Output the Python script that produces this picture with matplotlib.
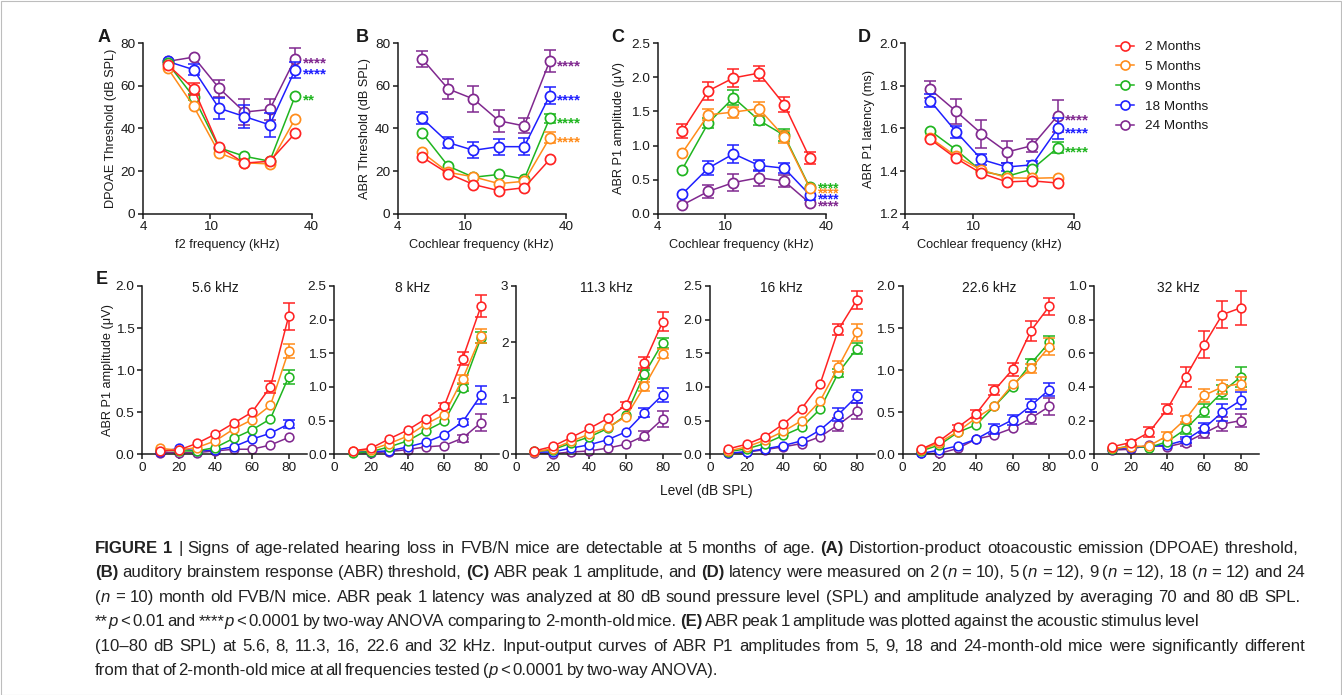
import matplotlib
matplotlib.use('Agg')
import matplotlib.pyplot as plt
import numpy as np
from matplotlib.lines import Line2D
from matplotlib.patches import Rectangle
from matplotlib.ticker import NullLocator

plt.rcParams['font.family'] = ['Liberation Sans', 'DejaVu Sans']

# ---------------- data ----------------
groups = ["2 Months", "5 Months", "9 Months", "18 Months", "24 Months"]
colors = ['#ff2222', '#ff8c1a', '#1fb51f', '#1f1fff', '#80288f']
freqs = [5.6, 8, 11.3, 16, 22.6, 32]
levels = [10, 20, 30, 40, 50, 60, 70, 80]

# A: DPOAE threshold (dB SPL), rows = groups
dpoae_mean = [[69.8, 58.6, 31.3, 23.8, 24.7, 37.8],
              [68.3, 50.3, 28.6, 24.0, 23.4, 44.5],
              [70.6, 54.7, 31.0, 27.0, 24.7, 55.2],
              [71.4, 67.5, 49.5, 45.6, 41.7, 67.5],
              [71.4, 73.4, 58.9, 47.7, 48.9, 72.7]]
dpoae_sem = [[0, 2.7, 0, 0, 0, 0],
             [0, 0, 0, 0, 0, 0],
             [0, 1.5, 0, 0, 0, 0],
             [0, 2.5, 5.0, 5.5, 5.6, 3.7],
             [0, 0, 4.0, 6.0, 5.0, 4.8]]
dpoae_stars = [None, None, "**", "****", "****"]

# B: ABR threshold (dB SPL)
abrthr_mean = [[26.6, 18.9, 13.8, 10.9, 12.3, 25.5],
               [28.8, 19.5, 17.4, 14.2, 15.3, 35.6],
               [37.9, 22.4, 17.2, 18.5, 16.4, 44.8],
               [44.8, 33.4, 29.8, 31.5, 31.5, 55.4],
               [72.6, 58.5, 53.8, 43.6, 41.2, 71.5]]
abrthr_sem = [[0, 0, 0, 0, 0, 0],
              [0, 0, 0, 0, 0, 2.6],
              [0, 0, 0, 0, 0, 2.1],
              [2.9, 2.5, 3.8, 3.8, 4.1, 3.9],
              [3.8, 4.7, 5.9, 5.2, 3.5, 5.0]]
abrthr_stars = [None, "****", "****", "****", "****"]

# C: ABR P1 amplitude (uV)
amp_mean = [[1.21, 1.80, 1.99, 2.06, 1.60, 0.82],
            [0.89, 1.45, 1.49, 1.54, 1.13, 0.38],
            [0.65, 1.33, 1.70, 1.37, 1.15, 0.39],
            [0.29, 0.67, 0.88, 0.71, 0.67, 0.28],
            [0.13, 0.33, 0.46, 0.53, 0.48, 0.16]]
amp_sem = [[0.10, 0.13, 0.13, 0.11, 0.11, 0.09],
           [0, 0.08, 0.08, 0.10, 0.085, 0],
           [0, 0.08, 0.11, 0.07, 0.09, 0],
           [0, 0.10, 0.13, 0.086, 0.075, 0.08],
           [0, 0.09, 0.12, 0.12, 0.085, 0]]
amp_stars = [None, "****", "****", "****", "****"]
amp_star_y = [None, 0.363, 0.44, 0.27, 0.166]

# D: ABR P1 latency (ms)
lat_mean = [[1.55, 1.46, 1.39, 1.35, 1.355, 1.345],
            [1.557, 1.47, 1.406, 1.37, 1.367, 1.37],
            [1.59, 1.50, 1.40, 1.376, 1.41, 1.51],
            [1.73, 1.584, 1.455, 1.42, 1.43, 1.60],
            [1.784, 1.68, 1.576, 1.49, 1.52, 1.66]]
lat_sem = [[0, 0, 0, 0, 0, 0],
           [0, 0, 0, 0, 0, 0],
           [0, 0, 0, 0, 0, 0.025],
           [0.03, 0.03, 0.025, 0.02, 0.02, 0.05],
           [0.04, 0.06, 0.065, 0.05, 0.03, 0.075]]
lat_stars = [None, None, "****", "****", "****"]

# E: input-output curves (uV)
io_titles = ["5.6 kHz", "8 kHz", "11.3 kHz", "16 kHz", "22.6 kHz", "32 kHz"]
io_5p6_mean = [[0.04, 0.05, 0.13, 0.24, 0.37, 0.50, 0.80, 1.64],
               [0.07, 0.05, 0.08, 0.16, 0.30, 0.41, 0.58, 1.23],
               [0.05, 0.04, 0.04, 0.08, 0.19, 0.29, 0.42, 0.92],
               [0.03, 0.07, 0.04, 0.05, 0.09, 0.18, 0.25, 0.36],
               [0.02, 0.02, 0.02, 0.04, 0.06, 0.06, 0.11, 0.20]]
io_5p6_sem = [[0, 0, 0, 0, 0, 0, 0.07, 0.16],
              [0, 0, 0, 0, 0, 0, 0, 0.08],
              [0, 0, 0, 0, 0, 0, 0, 0.085],
              [0, 0, 0, 0, 0, 0, 0, 0.05],
              [0, 0, 0, 0, 0, 0, 0, 0]]
io_8_mean = [[0.05, 0.09, 0.23, 0.36, 0.53, 0.72, 1.42, 2.20],
             [0.05, 0.07, 0.16, 0.27, 0.45, 0.59, 1.12, 1.76],
             [0.02, 0.04, 0.11, 0.20, 0.35, 0.49, 0.99, 1.73],
             [0.03, 0.04, 0.05, 0.11, 0.18, 0.29, 0.48, 0.88],
             [0.03, 0.02, 0.04, 0.07, 0.11, 0.13, 0.24, 0.47]]
io_8_sem = [[0, 0, 0, 0, 0, 0.04, 0.10, 0.16],
            [0, 0, 0, 0, 0, 0, 0.06, 0.10],
            [0, 0, 0, 0, 0, 0, 0.05, 0.08],
            [0, 0, 0, 0, 0, 0, 0.04, 0.13],
            [0, 0, 0, 0, 0, 0, 0.05, 0.13]]
io_11_mean = [[0.06, 0.14, 0.30, 0.46, 0.64, 0.88, 1.63, 2.36],
              [0.04, 0.10, 0.23, 0.36, 0.48, 0.67, 1.21, 1.79],
              [0.05, 0.08, 0.20, 0.31, 0.46, 0.70, 1.43, 1.99],
              [0.04, 0.04, 0.11, 0.17, 0.26, 0.40, 0.74, 1.06],
              [0.02, 0.01, 0.04, 0.06, 0.11, 0.18, 0.33, 0.63]]
io_11_sem = [[0, 0, 0, 0, 0, 0.05, 0.10, 0.17],
             [0, 0, 0, 0, 0, 0, 0.08, 0.08],
             [0, 0, 0, 0, 0, 0, 0.08, 0.09],
             [0, 0, 0, 0, 0, 0, 0.08, 0.13],
             [0, 0, 0, 0, 0, 0, 0.08, 0.15]]
io_16_mean = [[0.08, 0.15, 0.26, 0.45, 0.68, 1.04, 1.85, 2.29],
              [0.05, 0.11, 0.21, 0.34, 0.50, 0.79, 1.30, 1.81],
              [0.04, 0.08, 0.16, 0.28, 0.40, 0.67, 1.21, 1.57],
              [0.015, 0.04, 0.08, 0.13, 0.20, 0.36, 0.59, 0.86],
              [0.015, 0.03, 0.07, 0.11, 0.16, 0.26, 0.44, 0.64]]
io_16_sem = [[0, 0, 0, 0, 0, 0, 0.08, 0.13],
             [0, 0, 0, 0, 0, 0, 0.08, 0.12],
             [0, 0, 0, 0, 0, 0, 0.06, 0.08],
             [0, 0, 0, 0, 0, 0, 0.10, 0.10],
             [0, 0, 0, 0, 0, 0, 0.10, 0.12]]
io_22_mean = [[0.06, 0.16, 0.32, 0.48, 0.76, 1.01, 1.47, 1.76],
              [0.05, 0.14, 0.27, 0.43, 0.57, 0.83, 1.02, 1.28],
              [0.04, 0.11, 0.26, 0.35, 0.57, 0.80, 1.08, 1.33],
              [0.01, 0.05, 0.10, 0.18, 0.30, 0.41, 0.58, 0.77],
              [0.01, 0.01, 0.07, 0.18, 0.23, 0.31, 0.43, 0.57]]
io_22_sem = [[0, 0, 0.03, 0.05, 0.06, 0.08, 0.12, 0.10],
             [0, 0, 0, 0, 0, 0, 0.05, 0.10],
             [0, 0, 0, 0, 0, 0, 0.05, 0.08],
             [0, 0, 0, 0, 0.06, 0.06, 0.08, 0.08],
             [0, 0, 0, 0, 0, 0, 0.07, 0.10]]
io_32_mean = [[0.045, 0.07, 0.13, 0.27, 0.46, 0.65, 0.83, 0.87],
              [0.035, 0.045, 0.05, 0.11, 0.21, 0.35, 0.40, 0.42],
              [0.03, 0.05, 0.04, 0.075, 0.15, 0.26, 0.37, 0.46],
              [0.03, 0.04, 0.045, 0.055, 0.085, 0.155, 0.25, 0.32],
              [0.025, 0.03, 0.055, 0.045, 0.07, 0.125, 0.18, 0.20]]
io_32_sem = [[0, 0.015, 0.03, 0.03, 0.06, 0.08, 0.08, 0.10],
             [0, 0, 0, 0.02, 0.02, 0.04, 0.04, 0.04],
             [0, 0, 0, 0, 0.03, 0.04, 0.04, 0.06],
             [0, 0, 0, 0, 0.02, 0.03, 0.05, 0.05],
             [0, 0, 0, 0, 0.02, 0.03, 0.04, 0.04]]
io_ymax = [2.0, 2.5, 3.0, 2.5, 2.0, 1.0]
io_yticks = [[0, 0.5, 1.0, 1.5, 2.0], [0, 0.5, 1.0, 1.5, 2.0, 2.5], [0, 1, 2, 3],
             [0, 0.5, 1.0, 1.5, 2.0, 2.5], [0, 0.5, 1.0, 1.5, 2.0], [0, 0.2, 0.4, 0.6, 0.8, 1.0]]
io_yticklabels = [["0.0", "0.5", "1.0", "1.5", "2.0"], ["0.0", "0.5", "1.0", "1.5", "2.0", "2.5"],
                  ["0", "1", "2", "3"], ["0.0", "0.5", "1.0", "1.5", "2.0", "2.5"],
                  ["0.0", "0.5", "1.0", "1.5", "2.0"], ["0.0", "0.2", "0.4", "0.6", "0.8", "1.0"]]

# ---------------- figure ----------------
W, H = 1342, 695
fig = plt.figure(figsize=(W / 100, H / 100), dpi=100)
TXT = '#1a1a1a'
FS = 9.7      # tick labels
LFS = 9.2     # axis labels
TFS = 9.9     # E titles


def px_axes(left, top, width, height):
    return fig.add_axes([left / W, 1 - (top + height) / H, width / W, height / H])


def style(ax):
    for s in ['top', 'right']:
        ax.spines[s].set_visible(False)
    for s in ['left', 'bottom']:
        ax.spines[s].set_linewidth(1.1)
        ax.spines[s].set_color(TXT)
    ax.tick_params(direction='out', length=3.8, width=1.1, labelsize=FS, pad=1.6,
                   colors=TXT)
    ax.patch.set_alpha(0)


def draw(ax, x, means, sems, ms, mew):
    xx = np.array(x, dtype=float)
    for i in reversed(range(len(means))):
        c = colors[i]
        m = np.array(means[i], dtype=float)
        e = np.array(sems[i], dtype=float)
        z = 2 + (4 - i) * 0.5
        sel = e > 0
        if sel.any():
            ax.errorbar(xx[sel], m[sel], yerr=e[sel], fmt='none', ecolor=c,
                        elinewidth=1.1, capsize=4.3, capthick=1.1, zorder=z,
                        clip_on=False)
        ax.plot(xx, m, color=c, lw=1.1, marker='o', ms=ms, mfc='white', mec=c,
                mew=mew, zorder=z + 0.2, clip_on=False)


def add_stars(ax, labels, yvals, fs=11):
    for i, (lab, y) in enumerate(zip(labels, yvals)):
        if lab is None:
            continue
        ax.annotate(lab, xy=(freqs[-1], y), xytext=(5.5, -0.585 * fs),
                    textcoords='offset points', ha='left', va='baseline',
                    color=colors[i], fontsize=fs, fontweight='bold',
                    annotation_clip=False)


top_specs = [
    (143.0, dpoae_mean, dpoae_sem, (0, 80), [0, 20, 40, 60, 80], ['0', '20', '40', '60', '80'],
     "DPOAE Threshold (dB SPL)", "f2 frequency (kHz)", dpoae_stars, None, 111, 'A', 104, 11),
    (397.5, abrthr_mean, abrthr_sem, (0, 80), [0, 20, 40, 60, 80], ['0', '20', '40', '60', '80'],
     "ABR Threshold (dB SPL)", "Cochlear frequency (kHz)", abrthr_stars, None, 365, 'B', 362, 11),
    (657.5, amp_mean, amp_sem, (0, 2.5), [0, 0.5, 1.0, 1.5, 2.0, 2.5],
     ['0.0', '0.5', '1.0', '1.5', '2.0', '2.5'],
     "ABR P1 amplitude (\u03bcV)", "Cochlear frequency (kHz)", amp_stars, amp_star_y, 619, 'C', 618, 10),
    (905.5, lat_mean, lat_sem, (1.2, 2.0), [1.2, 1.4, 1.6, 1.8, 2.0],
     ['1.2', '1.4', '1.6', '1.8', '2.0'],
     "ABR P1 latency (ms)", "Cochlear frequency (kHz)", lat_stars, None, 869, 'D', 864, 11),
]

TOP_Y, TOP_H, TOP_W = 43, 171, 168.5
for (left, mean, sem, ylim, yt, ytl, ylab, xlab, st, sty, ylx, letter, lx, sfs) in top_specs:
    ax = px_axes(left, TOP_Y, TOP_W, TOP_H)
    style(ax)
    ax.set_xscale('log')
    ax.set_xlim(4, 40)
    ax.set_ylim(*ylim)
    ax.set_xticks([4, 10, 40])
    ax.set_xticklabels(['4', '10', '40'])
    ax.xaxis.set_minor_locator(NullLocator())
    ax.set_yticks(yt)
    ax.set_yticklabels(ytl)
    draw(ax, freqs, mean, sem, ms=7.3, mew=1.25)
    add_stars(ax, st, sty if sty is not None else [r[-1] for r in mean], fs=sfs)
    ax.set_ylabel(ylab, fontsize=LFS, color=TXT)
    ax.yaxis.set_label_coords((ylx - left) / TOP_W, 0.5)
    ax.yaxis.label.set_va('center')
    ax.set_xlabel(xlab, fontsize=LFS, color=TXT)
    ax.xaxis.set_label_coords(0.5, -(245 - (TOP_Y + TOP_H)) / TOP_H)
    ax.xaxis.label.set_va('center')
    fig.text(lx / W, 1 - 38 / H, letter, fontsize=13, fontweight='bold',
             ha='center', va='center', color=TXT)

# legend
handles = [Line2D([], [], color=c, lw=1.1, marker='o', ms=6.5, mfc='white', mec=c, mew=1.2)
           for c in colors]
fig.legend(handles, groups, loc='upper left', bbox_to_anchor=(1116 / W, 1 - 41 / H),
           frameon=False, fontsize=FS, handlelength=1.35, handletextpad=0.8,
           labelspacing=0.54, borderpad=0, borderaxespad=0, labelcolor=TXT)

# bottom row
io_means = [io_5p6_mean, io_8_mean, io_11_mean, io_16_mean, io_22_mean, io_32_mean]
io_sems = [io_5p6_sem, io_8_sem, io_11_sem, io_16_sem, io_22_sem, io_32_sem]
e_lefts = [142, 334.3, 516, 710, 902.7, 1094]
e_title_px = [215, 413, 606, 781, 989, 1178]
BOT_Y, BOT_H, BOT_W = 286, 168.3, 165
for j in range(6):
    left = e_lefts[j]
    ax = px_axes(left, BOT_Y, BOT_W, BOT_H)
    style(ax)
    ax.set_xlim(0, 90)
    ax.set_ylim(0, io_ymax[j])
    ax.set_xticks([0, 20, 40, 60, 80])
    ax.set_yticks(io_yticks[j])
    ax.set_yticklabels(io_yticklabels[j])
    draw(ax, levels, io_means[j], io_sems[j], ms=6.3, mew=1.15)
    ax.text((e_title_px[j] - left) / BOT_W, 1 - 2 / BOT_H, io_titles[j],
            transform=ax.transAxes, ha='center', va='center', fontsize=TFS, color=TXT)
    if j == 0:
        ax.set_ylabel("ABR P1 amplitude (\u03bcV)", fontsize=LFS, color=TXT)
        ax.yaxis.set_label_coords((108 - left) / BOT_W, 0.5)
        ax.yaxis.label.set_va('center')

fig.text(102 / W, 1 - 280 / H, 'E', fontsize=13, fontweight='bold', ha='center',
         va='center', color=TXT)
fig.text(706 / W, 1 - 491 / H, "Level (dB SPL)", fontsize=TFS, ha='center', va='center',
         color=TXT)

# ---------------- caption ----------------
cap_lines = [
    [("FIGURE 1", 'b'), (" | Signs of age-related hearing loss in FVB/N mice are detectable at 5 months of age. ", 'n'),
     ("(A)", 'b'), (" Distortion-product otoacoustic emission (DPOAE) threshold,", 'n')],
    [("(B)", 'b'), (" auditory brainstem response (ABR) threshold, ", 'n'), ("(C)", 'b'),
     (" ABR peak 1 amplitude, and ", 'n'), ("(D)", 'b'), (" latency were measured on 2 (", 'n'),
     ("n", 'i'), (" = 10), 5 (", 'n'), ("n", 'i'), (" = 12), 9 (", 'n'), ("n", 'i'),
     (" = 12), 18 (", 'n'), ("n", 'i'), (" = 12) and 24", 'n')],
    [("(", 'n'), ("n", 'i'), (" = 10) month old FVB/N mice. ABR peak 1 latency was analyzed at 80 dB sound pressure level (SPL) and amplitude analyzed by averaging 70 and 80 dB SPL.", 'n')],
    [("**", 'n'), ("p", 'i'), (" < 0.01 and ****", 'n'), ("p", 'i'),
     (" < 0.0001 by two-way ANOVA comparing to 2-month-old mice. ", 'n'), ("(E)", 'b'),
     (" ABR peak 1 amplitude was plotted against the acoustic stimulus level", 'n')],
    [("(10\u201380 dB SPL) at 5.6, 8, 11.3, 16, 22.6 and 32 kHz. Input-output curves of ABR P1 amplitudes from 5, 9, 18 and 24-month-old mice were significantly different", 'n')],
    [("from that of 2-month-old mice at all frequencies tested (", 'n'), ("p", 'i'),
     (" < 0.0001 by two-way ANOVA).", 'n')],
]
cap_right = [1298, 1305, 1300, 1137, 1305, 690]
CAP_X = 95
cap_y = [547 + 24.45 * k for k in range(6)]
CAP_FAMILY = ['Liberation Sans', 'DejaVu Sans']

renderer = fig.canvas.get_renderer()


def run_kw(st, fs):
    kw = dict(fontsize=fs, color='#222222', family=CAP_FAMILY)
    if st == 'b':
        kw['fontweight'] = 'bold'
    if st == 'i':
        kw['fontstyle'] = 'italic'
    return kw


def measure(s, st, fs):
    t = fig.text(0, 0, s, **run_kw(st, fs))
    w = t.get_window_extent(renderer).width
    t.remove()
    return w


def split_words(runs):
    words = [[]]
    for text, st in runs:
        parts = text.split(' ')
        for k, p in enumerate(parts):
            if k > 0:
                words.append([])
            if p:
                words[-1].append((p, st))
    return [w for w in words if w]


# one font size from all lines (natural widths vs. reference widths)
base = 10.0
sp0 = measure('a a', 'n', base) - measure('aa', 'n', base)
ratios = []
for li in range(6):
    ws = split_words(cap_lines[li])
    nat = sum(measure(p, st, base) for w in ws for p, st in w) + sp0 * (len(ws) - 1)
    ratios.append((cap_right[li] - CAP_X) / nat)
cap_fs = base * float(np.median(ratios))
space_w = measure('a a', 'n', cap_fs) - measure('aa', 'n', cap_fs)

for li, runs in enumerate(cap_lines):
    ws = split_words(runs)
    widths = [[measure(p, st, cap_fs) for p, st in w] for w in ws]
    total = sum(sum(w) for w in widths)
    gap = (cap_right[li] - CAP_X - total) / max(len(ws) - 1, 1)
    gap = min(max(gap, 0.55 * space_w), 2.2 * space_w)
    x = CAP_X
    base_y = cap_y[li] + 0.36 * cap_fs * 100 / 72
    for w, wl in zip(ws, widths):
        for (p, st), pw in zip(w, wl):
            fig.text(x / W, 1 - base_y / H, p, ha='left', va='baseline', **run_kw(st, cap_fs))
            x += pw
        x += gap

# border
fig.add_artist(Rectangle((0.5 / W, 0.5 / H), 1 - 1.5 / W, 1 - 1.5 / H, transform=fig.transFigure,
                         fill=False, edgecolor='#bdbdbd', lw=0.8))

fig.savefig('out.png', dpi=100)
